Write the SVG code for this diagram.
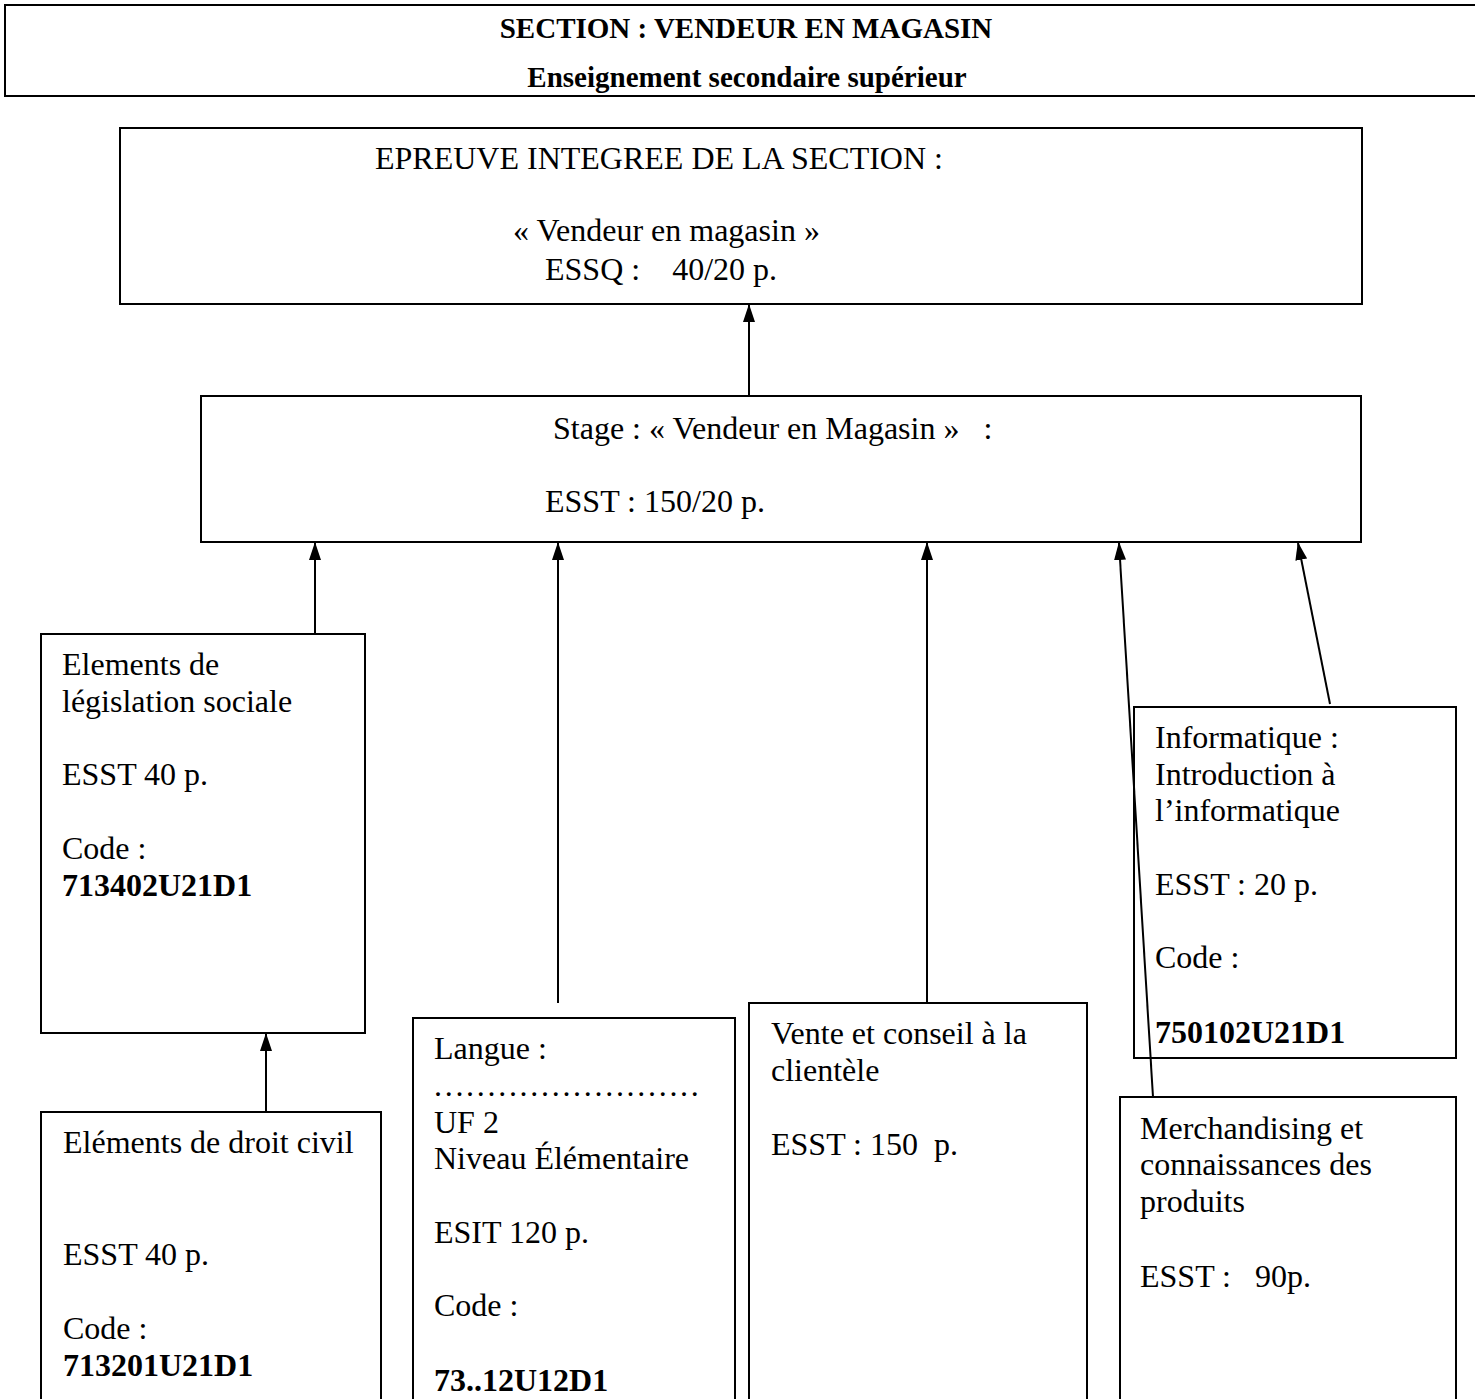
<svg xmlns="http://www.w3.org/2000/svg" width="1475" height="1399" viewBox="0 0 1475 1399">
<style>
.box{fill:none;stroke:#000;stroke-width:2}
.ln{fill:none;stroke:#000;stroke-width:2}
text{font-family:"Liberation Serif","Times New Roman",serif;font-size:32px;fill:#000}
.b{font-weight:bold}
.hd{font-weight:bold;font-size:29px}
</style>
<defs>
<marker id="ah" markerWidth="18" markerHeight="12" refX="17" refY="6" orient="auto" markerUnits="userSpaceOnUse" viewBox="0 0 18 12">
<path d="M0,0 L18,6 L0,12 Z" fill="#000"/>
</marker>
</defs>
<rect width="1475" height="1399" fill="#fff"/>
<g id="header">
<path class="box" d="M1475,5 H5 V96 H1475"/>
<text class="hd" x="746" y="38" text-anchor="middle">SECTION : VENDEUR EN MAGASIN</text>
<text class="hd" x="747" y="87" text-anchor="middle">Enseignement secondaire supérieur</text>
</g>
<g id="epreuve">
<rect class="box" x="120" y="128" width="1242" height="176"/>
<text x="375" y="169">EPREUVE INTEGREE DE LA SECTION :</text>
<text x="513" y="241">« Vendeur en magasin »</text>
<text x="545" y="280" xml:space="preserve">ESSQ :    40/20 p.</text>
</g>
<g id="stage">
<rect class="box" x="201" y="396" width="1160" height="146"/>
<text x="553" y="439" xml:space="preserve">Stage : « Vendeur en Magasin »   :</text>
<text x="545" y="512">ESST : 150/20 p.</text>
</g>
<g id="legislation">
<rect class="box" x="41" y="634" width="324" height="399"/>
<text x="62" y="675">Elements de</text>
<text x="62" y="712">législation sociale</text>
<text x="62" y="785">ESST 40 p.</text>
<text x="62" y="859">Code :</text>
<text class="b" x="62" y="896">713402U21D1</text>
</g>
<g id="droitcivil">
<path class="box" d="M41,1400 V1112 H381 V1400"/>
<text x="63" y="1153">Eléments de droit civil</text>
<text x="63" y="1265">ESST 40 p.</text>
<text x="63" y="1339">Code :</text>
<text class="b" x="63" y="1376">713201U21D1</text>
</g>
<g id="langue">
<path class="box" d="M413,1400 V1018 H735 V1400"/>
<text x="434" y="1059">Langue :</text>
<text x="434" y="1096" letter-spacing="2.7">.........................</text>
<text x="434" y="1133">UF 2</text>
<text x="434" y="1169">Niveau Élémentaire</text>
<text x="434" y="1243">ESIT 120 p.</text>
<text x="434" y="1316">Code :</text>
<text class="b" x="434" y="1391">73..12U12D1</text>
</g>
<g id="vente">
<path class="box" d="M749,1400 V1003 H1087 V1400"/>
<text x="771" y="1044">Vente et conseil à la</text>
<text x="771" y="1081">clientèle</text>
<text x="771" y="1155" xml:space="preserve">ESST : 150  p.</text>
</g>
<g id="informatique">
<rect class="box" x="1134" y="707" width="322" height="351"/>
<text x="1155" y="748">Informatique :</text>
<text x="1155" y="785">Introduction à</text>
<text x="1155" y="821">l’informatique</text>
<text x="1155" y="895">ESST : 20 p.</text>
<text x="1155" y="968">Code :</text>
<text class="b" x="1155" y="1043">750102U21D1</text>
</g>
<g id="merchandising">
<path class="box" d="M1120,1400 V1097 H1456 V1400"/>
<text x="1140" y="1139">Merchandising et</text>
<text x="1140" y="1175">connaissances des</text>
<text x="1140" y="1212">produits</text>
<text x="1140" y="1287" xml:space="preserve">ESST :   90p.</text>
</g>
<g id="connectors">
<line class="ln" x1="749" y1="395" x2="749" y2="305" marker-end="url(#ah)"/>
<line class="ln" x1="315" y1="633" x2="315" y2="543" marker-end="url(#ah)"/>
<line class="ln" x1="558" y1="1003" x2="558" y2="543" marker-end="url(#ah)"/>
<line class="ln" x1="927" y1="1002" x2="927" y2="543" marker-end="url(#ah)"/>
<line class="ln" x1="1153" y1="1097" x2="1119" y2="543" marker-end="url(#ah)"/>
<line class="ln" x1="1330" y1="704" x2="1298" y2="543" marker-end="url(#ah)"/>
<line class="ln" x1="266" y1="1111" x2="266" y2="1034" marker-end="url(#ah)"/>
</g>
</svg>
